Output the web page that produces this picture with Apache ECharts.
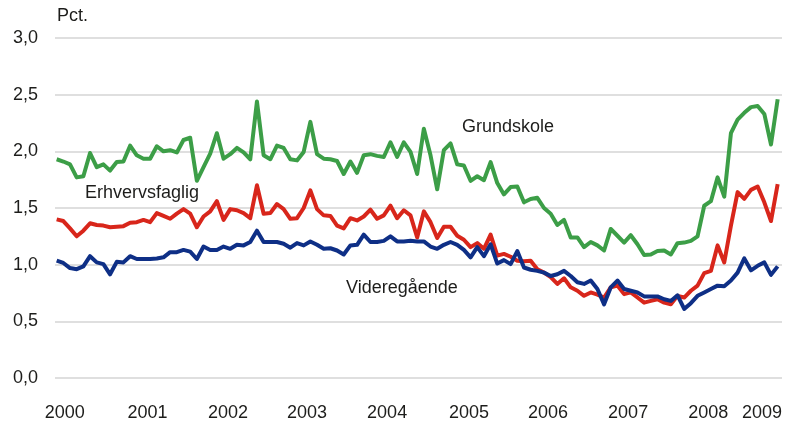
<!DOCTYPE html>
<html>
<head>
<meta charset="utf-8">
<script src="https://cdn.jsdelivr.net/npm/echarts@6.0.0/dist/echarts.min.js"></script>
<style>
  html, body { margin: 0; padding: 0; background: #ffffff; }
  #chart { width: 795px; height: 423px; }
</style>
</head>
<body>
<div id="chart"></div>
<script>
// Monthly observations, January 2000 to January 2009 (percent)
const months = [];
for (let y = 2000; y <= 2009; y++) {
  for (let m = 1; m <= 12; m++) {
    if (y === 2009 && m > 1) break;
    months.push(y + '-' + (m < 10 ? '0' + m : m));
  }
}

const grundskole = [
  1.93, 1.91, 1.885, 1.77, 1.78, 1.985, 1.86, 1.885, 1.83, 1.905, 1.91, 2.05,
  1.965, 1.935, 1.935, 2.045, 2.00, 2.01, 1.99, 2.10, 2.12, 1.74, 1.86, 1.98,
  2.16, 1.935, 1.975, 2.03, 1.99, 1.93, 2.44, 1.965, 1.93, 2.05, 2.03, 1.93,
  1.92, 1.995, 2.26, 1.975, 1.935, 1.93, 1.915, 1.80, 1.91, 1.81, 1.965, 1.975,
  1.96, 1.95, 2.08, 1.95, 2.08, 1.995, 1.80, 2.20, 1.965, 1.665, 2.01, 2.07,
  1.885, 1.875, 1.74, 1.78, 1.745, 1.905, 1.72, 1.62, 1.685, 1.69, 1.55, 1.58,
  1.59, 1.50, 1.45, 1.35, 1.395, 1.24, 1.24, 1.155, 1.20, 1.17, 1.125, 1.315,
  1.255, 1.195, 1.26, 1.18, 1.085, 1.09, 1.12, 1.125, 1.09, 1.19, 1.195, 1.21,
  1.25, 1.52, 1.56, 1.77, 1.60, 2.16, 2.28, 2.34, 2.39, 2.40, 2.33, 2.06,
  2.46
];

const erhvervsfaglig = [
  1.40, 1.385, 1.32, 1.25, 1.30, 1.365, 1.35, 1.345, 1.33, 1.335, 1.34, 1.37,
  1.375, 1.395, 1.375, 1.455, 1.43, 1.405, 1.45, 1.49, 1.45, 1.33, 1.425, 1.47,
  1.56, 1.395, 1.49, 1.48, 1.455, 1.41, 1.70, 1.45, 1.455, 1.535, 1.49, 1.405,
  1.41, 1.50, 1.655, 1.49, 1.435, 1.43, 1.345, 1.32, 1.41, 1.39, 1.425, 1.485,
  1.405, 1.435, 1.52, 1.41, 1.48, 1.435, 1.24, 1.47, 1.375, 1.235, 1.335, 1.335,
  1.255, 1.22, 1.155, 1.19, 1.14, 1.265, 1.08, 1.095, 1.07, 1.035, 1.03, 1.035,
  0.96, 0.93, 0.89, 0.83, 0.88, 0.80, 0.77, 0.725, 0.755, 0.735, 0.71, 0.80,
  0.815, 0.74, 0.755, 0.71, 0.665, 0.68, 0.695, 0.665, 0.65, 0.725, 0.71, 0.77,
  0.815, 0.925, 0.945, 1.17, 1.02, 1.345, 1.64, 1.58, 1.66, 1.69, 1.55, 1.385,
  1.71
];

const videregaaende = [
  1.035, 1.015, 0.97, 0.96, 0.985, 1.075, 1.02, 1.005, 0.915, 1.025, 1.02, 1.075,
  1.05, 1.05, 1.05, 1.055, 1.065, 1.11, 1.11, 1.13, 1.115, 1.05, 1.16, 1.13,
  1.13, 1.16, 1.14, 1.175, 1.17, 1.20, 1.30, 1.20, 1.20, 1.20, 1.185, 1.15,
  1.19, 1.17, 1.205, 1.175, 1.14, 1.145, 1.125, 1.09, 1.17, 1.175, 1.265, 1.20,
  1.20, 1.21, 1.25, 1.205, 1.205, 1.21, 1.205, 1.205, 1.16, 1.14, 1.175, 1.20,
  1.175, 1.13, 1.065, 1.155, 1.075, 1.18, 1.01, 1.04, 1.005, 1.12, 0.975, 0.955,
  0.945, 0.93, 0.90, 0.915, 0.945, 0.90, 0.845, 0.83, 0.86, 0.785, 0.65, 0.80,
  0.86, 0.785, 0.77, 0.755, 0.72, 0.72, 0.72, 0.695, 0.68, 0.73, 0.61, 0.66,
  0.725, 0.755, 0.785, 0.815, 0.81, 0.86, 0.93, 1.055, 0.95, 0.99, 1.02, 0.91,
  0.985
];

const yearLabels = ['2000', '2001', '2002', '2003', '2004', '2005', '2006', '2007', '2008', '2009'];
const seriesNames = ['Grundskole', 'Erhvervsfaglig', 'Videregående'];
const unitLabel = 'Pct.';

// ---- layout / style ----
const FONT = "'Liberation Sans', Arial, sans-serif";
const TEXT = '#1d1d1b';
const GREEN = '#3c9e47';
const RED = '#d8261b';
const BLUE = '#0e2f86';
// label centres along the month index axis (layout)
const yearLabelAt = [1.2, 13.6, 25.65, 37.5, 49.5, 61.75, 73.6, 85.6, 97.6, 105.65];

function pairs(arr) { return arr.map((v, i) => [i, v]); }

const chart = echarts.init(document.getElementById('chart'), null, { renderer: 'canvas' });

chart.setOption({
  animation: false,
  backgroundColor: '#ffffff',
  grid: { left: 55, right: 13, top: 38, bottom: 45, containLabel: false },
  xAxis: {
    type: 'value',
    min: -0.25,
    max: 108.65,
    axisLine: { show: false },
    axisTick: { show: false },
    splitLine: { show: false },
    axisLabel: {
      customValues: yearLabelAt,
      formatter: function (v) {
        let best = 0;
        for (let k = 0; k < yearLabelAt.length; k++) {
          if (Math.abs(yearLabelAt[k] - v) < Math.abs(yearLabelAt[best] - v)) best = k;
        }
        return yearLabels[best];
      },
      margin: 26,
      fontFamily: FONT,
      fontSize: 18,
      color: TEXT
    }
  },
  yAxis: {
    type: 'value',
    min: 0,
    max: 3,
    interval: 0.5,
    axisLine: { show: false },
    axisTick: { show: false },
    splitLine: { show: true, lineStyle: { color: '#d4d4d4', width: 1.5 } },
    axisLabel: {
      formatter: v => v.toFixed(1).replace('.', ','),
      margin: 17,
      fontFamily: FONT,
      fontSize: 18,
      color: TEXT
    }
  },
  graphic: [
    { type: 'text', x: 57, y: 16, style: { text: unitLabel, font: '18px ' + FONT, fill: TEXT, textAlign: 'left', textVerticalAlign: 'middle' } },
    { type: 'text', x: 462, y: 127, style: { text: seriesNames[0], font: '18px ' + FONT, fill: TEXT, textAlign: 'left', textVerticalAlign: 'middle' } },
    { type: 'text', x: 85, y: 193, style: { text: seriesNames[1], font: '18px ' + FONT, fill: TEXT, textAlign: 'left', textVerticalAlign: 'middle' } },
    { type: 'text', x: 346, y: 288, style: { text: seriesNames[2], font: '18px ' + FONT, fill: TEXT, textAlign: 'left', textVerticalAlign: 'middle' } }
  ],
  series: [
    { name: seriesNames[0], type: 'line', data: pairs(grundskole), showSymbol: false, lineStyle: { color: GREEN, width: 4, join: 'round' }, itemStyle: { color: GREEN } },
    { name: seriesNames[1], type: 'line', data: pairs(erhvervsfaglig), showSymbol: false, lineStyle: { color: RED, width: 4, join: 'round' }, itemStyle: { color: RED } },
    { name: seriesNames[2], type: 'line', data: pairs(videregaaende), showSymbol: false, lineStyle: { color: BLUE, width: 4, join: 'round' }, itemStyle: { color: BLUE } }
  ]
});
</script>
</body>
</html>
